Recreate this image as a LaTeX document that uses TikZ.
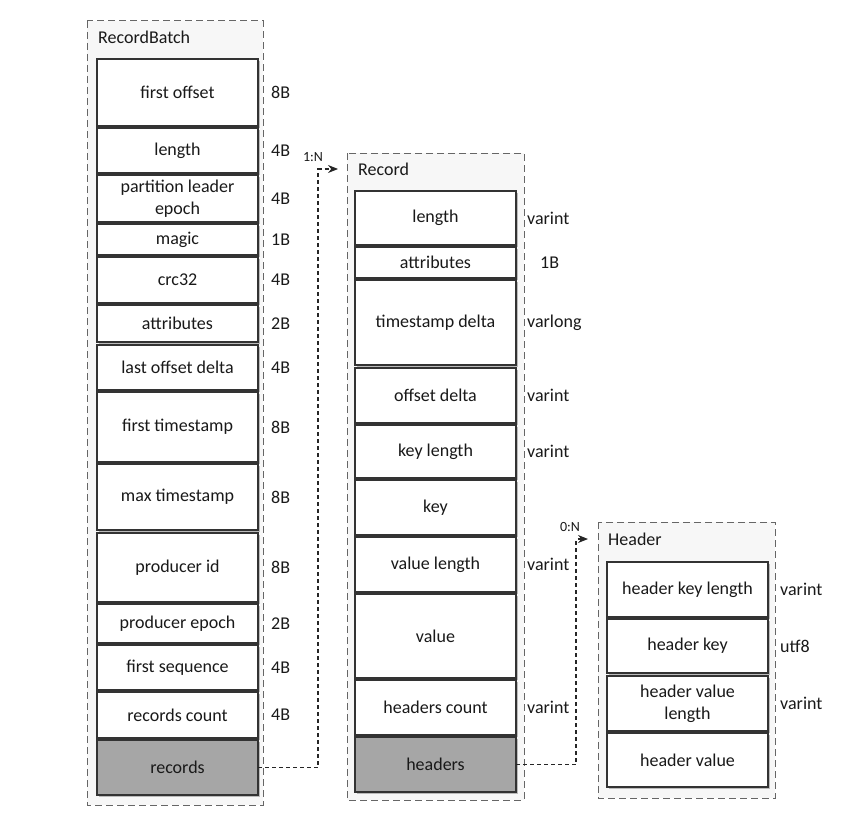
\documentclass[tikz,border=0pt]{standalone}
\usepackage{fontspec}
\setmainfont{Carlito}
\usetikzlibrary{shadows,arrows.meta}
\newcommand{\boxfont}{\fontsize{18}{22}\selectfont}

\begin{document}
\begin{tikzpicture}[x=1pt,y=-1pt, font=\boxfont, text=black!90,
  field/.style={draw=black!80, line width=1.5pt, fill=white, minimum width=161pt,
    align=center, inner sep=1pt, outer sep=0pt, anchor=north west,
    drop shadow={shadow xshift=2pt,shadow yshift=-2pt,opacity=.5}},
  reffield/.style={field, fill=gray!70},
  group/.style={draw=black!60, dash pattern=on 7pt off 4pt, line width=1pt, fill=gray!6},
  sizelabel/.style={anchor=west, inner sep=0pt},
  title/.style={anchor=west, inner sep=0pt},
  link/.style={draw=black!85, dash pattern=on 4pt off 3pt, line width=1.1pt},
  ]
  \useasboundingbox (0,0) rectangle (866,824);

  % RecordBatch
  \draw[group] (87,21) rectangle (263,805);
  \node[title] (rb-title) at (98,37) {RecordBatch};
  \foreach \nm/\ya/\yb/\txt in {fo/59/126/first offset, len/128/173/length,
      ple/175/222/{partition leader\\epoch}, mag/224/255/magic, crc/257/303/crc32,
      attr/305/342/attributes, lod/345/390/last offset delta,
      fts/392/462/first timestamp, mts/464/530/max timestamp, pid/533/602/producer id,
      pep/604/643/producer epoch, fseq/645/690/first sequence, rc/692/738/records count}
  {
    \node[field, minimum height=(\yb-\ya)*1pt] (rb-\nm) at (97,\ya) {\txt};
  }
  \node[reffield, minimum height=55pt] (rb-rec) at (97,740) {records};
  \foreach \nm/\sz in {fo/8B, len/4B, ple/4B, mag/1B, crc/4B, attr/2B, lod/4B,
      fts/8B, mts/8B, pid/8B, pep/2B, fseq/4B, rc/4B}
    \node[sizelabel] (rb-\nm-size) at ([xshift=13pt]rb-\nm.east) {\sz};

  % Record
  \draw[group] (347,153) rectangle (524,800);
  \node[title] (r-title) at (358,169) {Record};
  \foreach \nm/\ya/\yb/\txt in {len/191/245/length, attr/247/278/attributes,
      tsd/280/365/timestamp delta, od/368/423/offset delta, kl/425/478/key length,
      key/480/535/key, vl/537/592/value length, val/594/678/value,
      hc/680/735/headers count}
  {
    \node[field, minimum height=(\yb-\ya)*1pt] (r-\nm) at (355,\ya) {\txt};
  }
  \node[reffield, minimum height=55pt] (r-hdr) at (355,737) {headers};
  \foreach \nm/\sz/\dx in {len/varint/11, attr/1B/24, tsd/varlong/11, od/varint/11,
      kl/varint/11, vl/varint/11, hc/varint/11}
    \node[sizelabel] (r-\nm-size) at ([xshift=\dx pt]r-\nm.east) {\sz};

  % Header
  \draw[group] (598,522) rectangle (775,798);
  \node[title] (h-title) at (608,539) {Header};
  \foreach \nm/\ya/\yb/\txt in {hkl/562/617/header key length, hk/619/673/header key,
      hvl/676/731/{header value\\length}, hv/733/787/header value}
  {
    \node[field, minimum height=(\yb-\ya)*1pt] (h-\nm) at (607,\ya) {\txt};
  }
  \foreach \nm/\sz in {hkl/varint, hk/utf8, hvl/varint}
    \node[sizelabel] (h-\nm-size) at ([xshift=12pt]h-\nm.east) {\sz};

  % links
  \coordinate (r-in) at (338,169);
  \coordinate (h-in) at (588,539);
  \draw[link,-{Stealth[length=10pt,width=8pt]}] (rb-rec.east) -- ++(60,0) |- (r-in);
  \draw[link,-{Stealth[length=10pt,width=8pt]}] (r-hdr.east) -- ++(60,0) |- (h-in);
  \node[font=\fontsize{14}{16}\selectfont, inner sep=0pt] (rb-mult) at (313,157) {1:N};
  \node[font=\fontsize{14}{16}\selectfont, inner sep=0pt] (r-mult) at (570,527) {0:N};
\end{tikzpicture}
\end{document}
